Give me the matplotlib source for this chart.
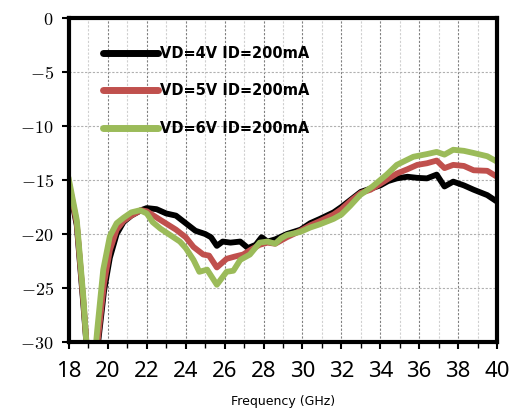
import numpy as np
import matplotlib.pyplot as plt
from matplotlib.ticker import MultipleLocator

plt.rcParams['mathtext.fontset'] = 'cm'

# S22 vs frequency for three drain bias points
freq_4v = [18.0, 18.4, 18.75, 19.15, 19.5, 19.8, 20.1, 20.45, 20.8, 21.2, 21.7, 22.0, 22.5,
           23.0, 23.5, 24.0, 24.5, 25.0, 25.3, 25.6, 25.9, 26.3, 26.8, 27.2, 27.6, 27.9,
           28.2, 28.6, 29.2, 29.9, 30.4, 30.9, 31.6, 32.0, 32.5, 33.0, 33.5, 34.0, 34.4,
           34.85, 35.4, 35.9, 36.4, 36.9, 37.3, 37.75, 38.3, 38.8, 39.5, 40.0]
s22_4v = [-15.5, -19.2, -26.8, -36.0, -30.0, -25.3, -22.2, -20.0, -18.9, -18.3, -17.8, -17.6, -17.7,
          -18.1, -18.3, -19.0, -19.7, -20.0, -20.3, -21.1, -20.7, -20.8, -20.7, -21.3, -21.0, -20.3,
          -20.7, -20.5, -20.0, -19.6, -19.0, -18.6, -18.0, -17.5, -16.8, -16.1, -15.8, -15.5, -15.1,
          -14.85, -14.7, -14.8, -14.85, -14.5, -15.6, -15.15, -15.5, -15.9, -16.4, -17.0]

freq_5v = [18.0, 18.4, 18.75, 19.15, 19.5, 19.8, 20.1, 20.45, 20.8, 21.2, 21.7, 22.0, 22.7,
           23.5, 24.0, 24.4, 24.9, 25.2, 25.6, 26.1, 26.5, 26.95, 27.4, 27.8, 28.2, 28.6,
           29.2, 29.9, 30.4, 30.9, 31.6, 32.0, 32.5, 33.0, 33.5, 34.0, 34.4, 34.85, 35.4,
           35.9, 36.4, 36.9, 37.3, 37.75, 38.3, 38.8, 39.5, 40.0]
s22_5v = [-15.3, -19.0, -26.5, -36.0, -29.5, -24.6, -21.5, -19.6, -18.8, -18.3, -17.8, -17.9, -18.7,
          -19.6, -20.3, -21.2, -21.9, -22.0, -23.1, -22.3, -22.1, -21.9, -21.4, -21.0, -20.8, -20.9,
          -20.3, -19.7, -19.2, -18.8, -18.2, -17.7, -16.9, -16.2, -15.9, -15.35, -14.9, -14.4, -14.0,
          -13.6, -13.45, -13.2, -13.9, -13.6, -13.7, -14.1, -14.15, -14.7]

freq_6v = [18.0, 18.4, 18.75, 19.1, 19.45, 19.76, 20.1, 20.45, 20.8, 21.2, 21.65, 22.0, 22.3,
           22.7, 23.2, 23.7, 24.0, 24.4, 24.7, 25.1, 25.6, 26.1, 26.45, 26.8, 27.3, 27.8,
           28.2, 28.6, 28.9, 29.2, 29.9, 30.4, 30.9, 31.6, 32.0, 32.45, 32.96, 33.6, 34.33,
           34.85, 35.3, 35.7, 36.4, 36.9, 37.3, 37.75, 38.3, 38.8, 39.5, 40.0]
s22_6v = [-15.0, -18.7, -26.1, -36.0, -28.9, -23.3, -20.2, -19.0, -18.5, -18.0, -17.8, -18.1, -18.9,
          -19.5, -20.1, -20.7, -21.3, -22.4, -23.5, -23.3, -24.7, -23.5, -23.4, -22.4, -21.9, -20.8,
          -20.7, -20.9, -20.4, -20.1, -19.8, -19.4, -19.1, -18.6, -18.2, -17.4, -16.4, -15.6, -14.5,
          -13.6, -13.2, -12.85, -12.6, -12.4, -12.65, -12.2, -12.3, -12.5, -12.8, -13.3]

labels = ['VD=4V ID=200mA', 'VD=5V ID=200mA', 'VD=6V ID=200mA']
colors = ['#000000', '#c0504d', '#9bbb59']

fig = plt.figure(figsize=(5.13, 4.18), dpi=100)
ax = fig.add_axes([69 / 513, 1 - 342 / 418, 428 / 513, 324 / 418])

ax.plot(freq_4v, s22_4v, color=colors[0], lw=4.2, label=labels[0], solid_joinstyle='round')
ax.plot(freq_5v, s22_5v, color=colors[1], lw=4.2, label=labels[1], solid_joinstyle='round')
ax.plot(freq_6v, s22_6v, color=colors[2], lw=4.2, label=labels[2], solid_joinstyle='round')

ax.set_xlim(18, 40)
ax.set_ylim(-30, 0)
ax.xaxis.set_major_locator(MultipleLocator(2))
ax.xaxis.set_minor_locator(MultipleLocator(1))

yt = np.arange(-30, 1, 5)
ax.set_yticks(yt)
ax.set_yticklabels(['$%d$' % v for v in yt], fontsize=13)
ax.tick_params(axis='x', which='major', labelsize=16, length=5, width=1.5, pad=9)
ax.tick_params(axis='x', which='minor', length=4, width=1)
ax.tick_params(axis='y', length=5, width=1.5, pad=6)
for t in ax.get_xticklabels():
    t.set_family('Noto Sans')

ax.grid(which='major', axis='x', color='#808080', ls=(0, (2, 1.5)), lw=0.8)
ax.grid(which='minor', axis='x', color='#d0d0d0', ls=(0, (2, 1.5)), lw=0.8)
ax.grid(which='major', axis='y', color='#b0b0b0', ls=(0, (2, 1.5)), lw=0.8)

for s in ax.spines.values():
    s.set_linewidth(3)

ax.set_xlabel('Frequency (GHz)', fontsize=9, labelpad=9)

leg = ax.legend(loc='upper left', bbox_to_anchor=(0.048, 0.955), frameon=False,
                handlelength=3.8, handletextpad=0.15, labelspacing=1.55,
                prop={'weight': 'bold', 'size': 10.5})
for h in leg.get_lines():
    h.set_linewidth(5)
    h.set_solid_capstyle('round')

fig.savefig('out.png', dpi=100)
